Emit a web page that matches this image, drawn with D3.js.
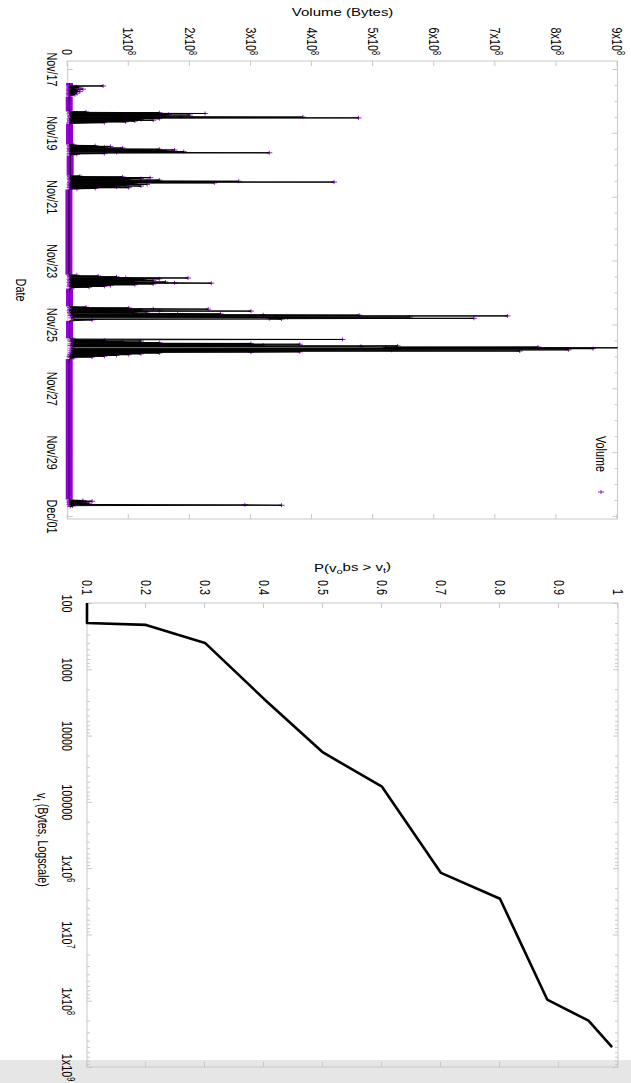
<!DOCTYPE html>
<html>
<head>
<meta charset="utf-8">
<script src="https://cdn.jsdelivr.net/npm/d3@7"></script>
<style>
  html, body { margin: 0; padding: 0; background: #fff; }
  svg { display: block; }
  text { font-family: "Liberation Sans", Arial, sans-serif; fill: #000; }
</style>
</head>
<body>
<svg id="chart" width="631" height="1083"></svg>
<script>
// ---------- data ----------
// top chart: traffic volume over time (values in 10^6 bytes)
const dateTicks = ["2009-11-17", "2009-11-19", "2009-11-21", "2009-11-23",
                   "2009-11-25", "2009-11-27", "2009-11-29", "2009-12-01"];
const dateStart = "2009-11-16 18:00";
const dateEnd = "2009-12-01 02:15";
const volumeTicks = [0, 100, 200, 300, 400, 500, 600, 700, 800, 900];

// one sample every 0.3 h inside a burst; start = hours after Nov/17 00:00
const SAMPLE_HOURS = 0.3;
const burstStart = [12.75, 32.25, 57, 80.5, 155, 179, 203, 324];
const burst1 = [58, 3, 14, 2, 18, 4, 9, 2, 25, 3, 12, 2, 16, 4, 20, 2, 10, 3, 15, 2, 8, 3, 12, 2, 5];
const burst2 = [30, 4, 150, 6, 225, 3, 165, 8, 200, 5, 160, 4, 185, 385, 6, 476, 5, 150, 3, 120,
                7, 140, 4, 110, 6, 95, 3, 60];
const burst3 = [10, 3, 45, 5, 70, 4, 60, 6, 90, 3, 65, 150, 4, 175, 5, 160, 3, 190, 6, 80,
                330, 4, 60, 3, 15];
const burst4 = [20, 4, 90, 6, 135, 3, 120, 5, 100, 4, 150, 6, 130, 280, 5, 436, 4, 240, 6, 110,
                3, 130, 5, 95, 4, 120, 6, 80, 3, 100, 5, 45, 15];
const burst5 = [15, 3, 50, 5, 80, 4, 95, 197, 6, 150, 3, 125, 5, 140, 4, 110, 6, 160, 3, 175,
                235, 5, 140, 4, 110, 6, 70, 3, 60, 5, 35, 10];
const burst6 = [30, 4, 100, 6, 140, 230, 5, 120, 3, 150, 300, 6, 130, 4, 110, 5, 180, 250, 6, 320,
                477, 5, 720, 340, 8, 560, 360, 6, 665, 330, 350, 10, 40];
const burst7 = [10, 450, 5, 60, 8, 120, 6, 90, 10, 150, 8, 300, 6, 380, 10, 320, 5, 540, 480, 8,
                770, 520, 950, 6, 860, 540, 8, 820, 530, 6, 740, 8, 380, 300, 6, 150, 8, 120,
                5, 100, 4, 80, 6, 60, 3, 40, 5, 10];
const burst8 = [5, 25, 3, 40, 4, 30, 3, 20, 35, 4, 25, 3, 290, 350, 5, 8, 4];
const bursts = [burst1, burst2, burst3, burst4, burst5, burst6, burst7, burst8];

// quiet periods: [start hour, end hour, typical volume]
const quietSpans = [[10.5, 12.6, 3], [20.6, 32.0, 2.5], [41.0, 56.8, 3], [65.0, 80.2, 4],
                    [90.5, 154.6, 2], [165.0, 178.5, 3], [189.3, 202.5, 3], [218.0, 323.5, 2.5]];

// bottom chart: distribution of volume
const probTicks = [0.1, 0.2, 0.3, 0.4, 0.5, 0.6, 0.7, 0.8, 0.9, 1];
const bytesTicks = [1e2, 1e3, 1e4, 1e5, 1e6, 1e7, 1e8, 1e9];
const ccdfBytes = [100, 200, 214, 400, 2800, 18000, 59000, 1.18e6, 2.9e6, 9.6e7, 2.0e8, 5.0e8];
const ccdfProb  = [0.1, 0.1, 0.2, 0.3, 0.4, 0.5, 0.6, 0.7, 0.8, 0.88, 0.95, 0.99];

// ---------- layout ----------
// the figure is a landscape plot turned 90 degrees clockwise
const W = 631;
const SQ = 0.72;            // text squeeze along the long side
const PURPLE = "#9400d3";
const FRAME = "#c8c8c8";

const svg = d3.select("#chart");
svg.append("rect").attr("width", 631).attr("height", 1083).attr("fill", "#fff");

const g = svg.append("g").attr("transform", `translate(${W},0) rotate(90)`);

// grey strip at the foot of the page
g.append("rect").attr("x", 1060).attr("y", 0).attr("width", 23).attr("height", W).attr("fill", "#e6e6e6");

const parseT = d3.timeParse("%Y-%m-%d %H:%M");
const parseD = d3.timeParse("%Y-%m-%d");
const t0 = parseD(dateTicks[0]);
const atHour = h => new Date(t0.getTime() + h * 3600e3);

function styleAxis(sel) {
  sel.attr("font-size", 15).attr("font-family", null);
  sel.select(".domain").remove();
  sel.selectAll(".tick line").attr("stroke", FRAME);
}
function sci(text, mant, exp) {
  text.text(null);
  text.append("tspan").text(mant + "x10");
  text.append("tspan").attr("dy", "-0.45em").attr("font-size", 10).text(exp);
}

// ===== top panel: Volume vs Date =====
const t1 = d3.scaleTime().domain([parseT(dateStart), parseT(dateEnd)]).range([61, 519]);
const y1 = d3.scaleLinear().domain([0, 900]).range([563.3, 13.5]);

g.append("clipPath").attr("id", "clip1")
  .append("rect").attr("x", 61).attr("y", 13.5).attr("width", 458).attr("height", 620);

// value axis (left in landscape = top on screen)
g.append("g").attr("transform", "translate(61,0)")
  .call(d3.axisLeft(y1).tickValues(volumeTicks).tickSize(-5).tickPadding(0))
  .call(styleAxis)
  .selectAll("text")
  .attr("x", -8.5).attr("transform", `scale(${SQ},1)`)
  .each(function(d) { if (d !== 0) sci(d3.select(this), d / 100, "8"); });
g.append("g").attr("transform", "translate(519,0)")
  .call(d3.axisRight(y1).tickValues(volumeTicks).tickSize(-5).tickFormat(""))
  .call(styleAxis);

// date axis
const dTicks = dateTicks.map(parseD);
const dMinor = d3.timeHour.every(12).range(...t1.domain()).filter(d => d.getHours() === 12 || d.getDate() % 2 === 0);
g.append("g").attr("transform", "translate(0,563.3)")
  .call(d3.axisBottom(t1).tickValues(dTicks).tickSize(-5).tickPadding(10).tickFormat(d3.timeFormat("%b/%d")))
  .call(styleAxis)
  .selectAll("text").attr("transform", `scale(${SQ},1)`);
g.append("g").attr("transform", "translate(0,563.3)")
  .call(d3.axisBottom(t1).tickValues(dMinor).tickSize(-3).tickFormat("")).call(styleAxis);
g.append("g").attr("transform", "translate(0,13.5)")
  .call(d3.axisTop(t1).tickValues(dTicks).tickSize(-5).tickFormat("")).call(styleAxis);
g.append("g").attr("transform", "translate(0,13.5)")
  .call(d3.axisTop(t1).tickValues(dMinor).tickSize(-3).tickFormat("")).call(styleAxis);

g.append("rect").attr("x", 61).attr("y", 13.5).attr("width", 458).attr("height", 549.8)
  .attr("fill", "none").attr("stroke", FRAME);

// series
const points = [];
quietSpans.forEach(([a, b, v]) => { points.push({ h: a, v }, { h: b, v }); });
bursts.forEach((vals, i) => vals.forEach((v, j) => points.push({ h: burstStart[i] + j * SAMPLE_HOURS, v, mark: true })));
points.sort((a, b) => a.h - b.h);

const plot1 = g.append("g").attr("clip-path", "url(#clip1)");

plot1.selectAll("line.quiet").data(quietSpans).enter().append("line")
  .attr("class", "quiet")
  .attr("x1", d => t1(atHour(d[0]))).attr("x2", d => t1(atHour(d[1])))
  .attr("y1", d => y1(d[2])).attr("y2", d => y1(d[2]))
  .attr("stroke", PURPLE).attr("stroke-width", 7);

// points first, the connecting line over them
plot1.selectAll("path.pt").data(points.filter(d => d.mark)).enter().append("path")
  .attr("class", "pt")
  .attr("transform", d => `translate(${t1(atHour(d.h))},${y1(d.v)})`)
  .attr("d", "M-2,0H2M0,-3V3")
  .attr("stroke", PURPLE).attr("stroke-width", 0.9).attr("fill", "none");

plot1.append("path").datum(points)
  .attr("d", d3.line().x(d => t1(atHour(d.h))).y(d => y1(d.v)))
  .attr("fill", "none").attr("stroke", "#000").attr("stroke-width", 1);

// titles and key
g.append("text").attr("transform", `translate(12.5,${(563.3 + 13.5) / 2}) scale(${SQ},1) rotate(-90)`)
  .attr("text-anchor", "middle").attr("dy", "0.35em").attr("font-size", 15).text("Volume (Bytes)");
g.append("text").attr("transform", `translate(290,610) scale(${SQ},1)`)
  .attr("text-anchor", "middle").attr("dy", "0.35em").attr("font-size", 15).text("Date");
g.append("text").attr("transform", `translate(472,30) scale(${SQ},1)`)
  .attr("text-anchor", "end").attr("dy", "0.35em").attr("font-size", 15).text("Volume");
g.append("path").attr("transform", "translate(492,30)")
  .attr("d", "M-2,0H2M0,-3V3").attr("stroke", PURPLE).attr("stroke-width", 0.9);

// ===== bottom panel: P(v_obs > v_t) vs v_t =====
const x2 = d3.scaleLog().domain([1e2, 1e9]).range([603, 1067]);
const y2 = d3.scaleLinear().domain([0.1, 1]).range([544, 13]);
const logMinor = x2.ticks().filter(d => !bytesTicks.includes(d));

g.append("g").attr("transform", "translate(603,0)")
  .call(d3.axisLeft(y2).tickValues(probTicks).tickSize(-5).tickPadding(0).tickFormat(d3.format("")))
  .call(styleAxis)
  .selectAll("text").attr("x", -11).attr("transform", `scale(${SQ},1)`);
g.append("g").attr("transform", "translate(1067,0)")
  .call(d3.axisRight(y2).tickValues(probTicks).tickSize(-5).tickFormat("")).call(styleAxis);

g.append("g").attr("transform", "translate(0,544)")
  .call(d3.axisBottom(x2).tickValues(bytesTicks).tickSize(-5).tickPadding(14))
  .call(styleAxis)
  .selectAll("text").attr("transform", `scale(${SQ},1)`)
  .each(function(d) {
    const e = Math.round(Math.log10(d));
    if (e <= 5) d3.select(this).text(d3.format("d")(d));
    else sci(d3.select(this), 1, String(e));
  });
g.append("g").attr("transform", "translate(0,544)")
  .call(d3.axisBottom(x2).tickValues(logMinor).tickSize(-3).tickFormat("")).call(styleAxis);
g.append("g").attr("transform", "translate(0,13)")
  .call(d3.axisTop(x2).tickValues(bytesTicks).tickSize(-5).tickFormat("")).call(styleAxis);
g.append("g").attr("transform", "translate(0,13)")
  .call(d3.axisTop(x2).tickValues(logMinor).tickSize(-3).tickFormat("")).call(styleAxis);

g.append("rect").attr("x", 603).attr("y", 13).attr("width", 464).attr("height", 531)
  .attr("fill", "none").attr("stroke", FRAME);

const ccdf = ccdfBytes.map((b, i) => ({ b, p: ccdfProb[i] }));
g.append("path").datum(ccdf)
  .attr("d", d3.line().x(d => x2(d.b)).y(d => y2(d.p)))
  .attr("fill", "none").attr("stroke", "#000").attr("stroke-width", 2.6)
  .attr("stroke-linejoin", "round");

const pTitle = g.append("text")
  .attr("transform", `translate(568,${(544 + 13) / 2}) scale(${SQ},1) rotate(-90)`)
  .attr("text-anchor", "middle").attr("dy", "0.35em").attr("font-size", 15);
pTitle.append("tspan").text("P(v");
pTitle.append("tspan").attr("dy", "0.3em").attr("font-size", 11).text("o");
pTitle.append("tspan").attr("dy", "-0.3em").text("bs  >  v");
pTitle.append("tspan").attr("dy", "0.3em").attr("font-size", 11).text("t");
pTitle.append("tspan").attr("dy", "-0.3em").text(")");

const vTitle = g.append("text")
  .attr("transform", `translate(840,589) scale(${SQ},1)`)
  .attr("text-anchor", "middle").attr("dy", "0.35em").attr("font-size", 15);
vTitle.append("tspan").text("v");
vTitle.append("tspan").attr("dy", "0.3em").attr("font-size", 11).text("t");
vTitle.append("tspan").attr("dy", "-0.3em").text(" (Bytes, Logscale)");
</script>
</body>
</html>
